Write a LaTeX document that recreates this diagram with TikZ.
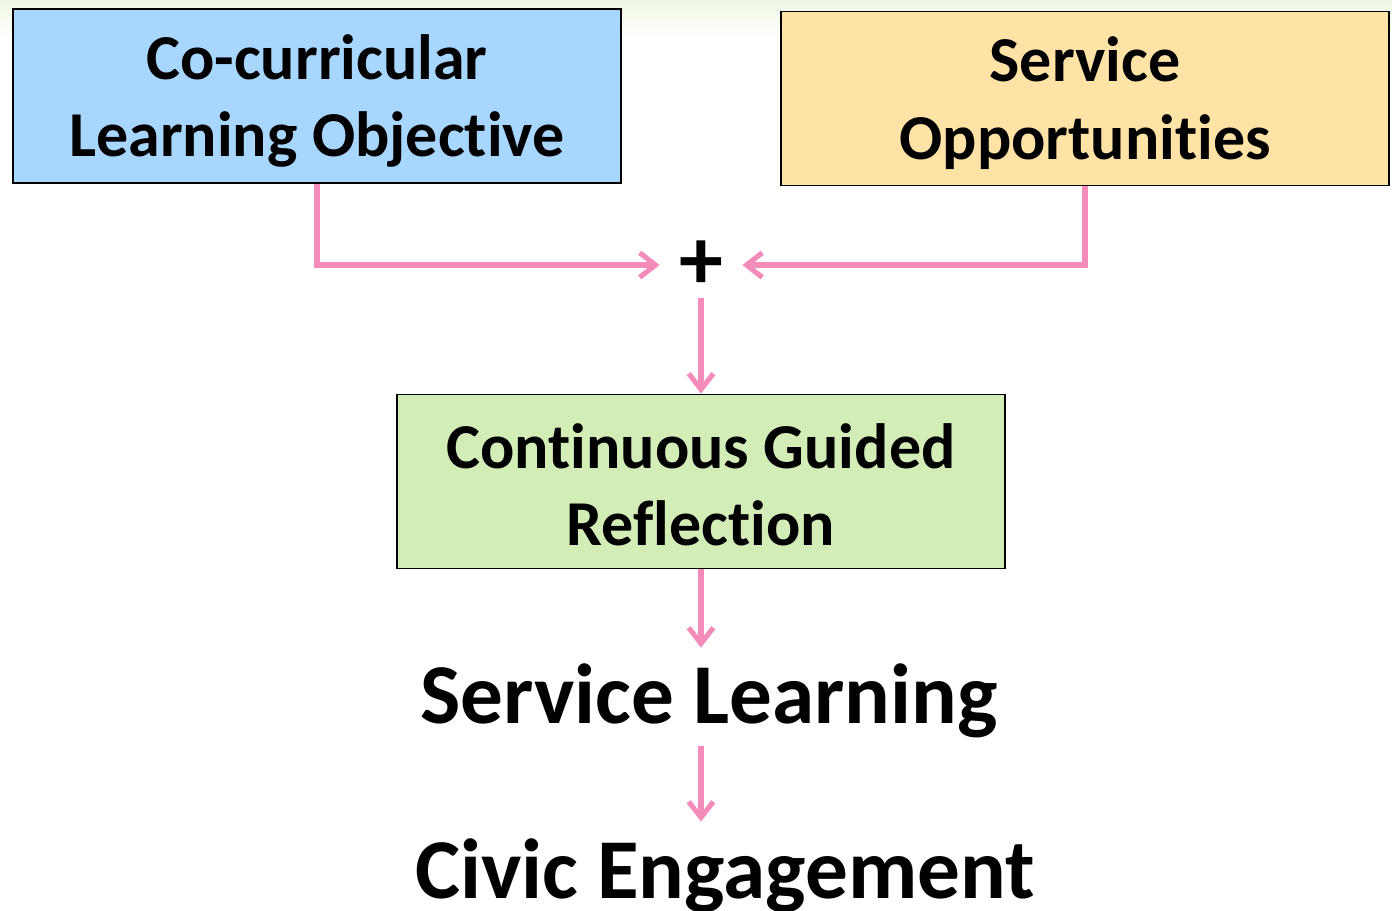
\documentclass[tikz,border=0pt]{standalone}
\usepackage{fontspec}
\setmainfont[Ligatures=NoCommon]{Carlito}
\usetikzlibrary{arrows.meta}
\definecolor{objblue}{HTML}{A7D7FE}
\definecolor{oppyellow}{HTML}{FFE3A6}
\definecolor{reflgreen}{HTML}{D3EDB7}
\definecolor{linkpink}{HTML}{F48CBA}
\definecolor{topgreen}{HTML}{EEF7E4}
\begin{document}
\begin{tikzpicture}[x=0.02cm,y=-0.02cm,
    box/.style={draw, line width=1.1pt, minimum width=12.16cm, minimum height=3.48cm},
    boxtext/.style={align=center, font=\fontsize{36.4}{44}\selectfont\bfseries},
    result/.style={inner sep=0pt, font=\fontsize{48.5}{56}\selectfont\bfseries},
    link/.style={draw=linkpink, line width=2.9pt, -{Straight Barb[length=9pt,width=14pt,line width=2.9pt]}}]
    \useasboundingbox (0,0) rectangle (1392,910);
    \shade[top color=topgreen, bottom color=white] (0,0) rectangle (1392,38);
    % the three boxes
    \node[box, fill=objblue] (obj) at (317,96) {};
    \node[boxtext] (objtext) at ([yshift=-0.1cm]obj.center) {Co-curricular\\Learning Objective};
    \node[box, fill=oppyellow] (opp) at (1085,98.5) {};
    \node[boxtext] (opptext) at ([yshift=-0.09cm]opp.center) {Service\\Opportunities};
    \node[inner sep=0pt, minimum width=1.64cm, minimum height=1.32cm,
        font=\fontsize{50}{50}\selectfont\bfseries] (plus) at (701,265) {+};
    \node[box, fill=reflgreen] (refl) at (701,481.5) {};
    \node[boxtext] (refltext) at ([yshift=-0.07cm]refl.center) {Continuous Guided\\Reflection};
    \node[result, minimum height=2.12cm] (sl) at (709,701) {Service Learning};
    \node[result, minimum height=2.16cm] (ce) at (725,876) {Civic Engagement};
    % connectors
    \draw[link] (obj.south) |- (plus.west);
    \draw[link] (opp.south) |- (plus.east);
    \draw[link] (plus.south) -- (refl.north);
    \draw[link] (refl.south) -- (refl.south |- sl.north);
    \draw[link, shorten <=-5pt] (refl.south |- sl.south) -- (refl.south |- ce.north);
\end{tikzpicture}
\end{document}
